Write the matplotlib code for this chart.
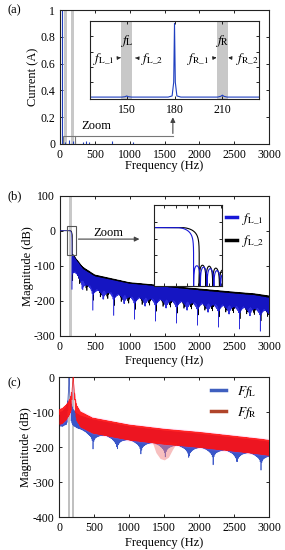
import numpy as np
import matplotlib
matplotlib.use("Agg")
import matplotlib.pyplot as plt
from matplotlib.patches import Rectangle
from matplotlib.lines import Line2D

plt.rcParams['font.family'] = ['Liberation Serif', 'DejaVu Serif']
plt.rcParams['mathtext.fontset'] = 'stix'
plt.rcParams['font.size'] = 8.5
plt.rcParams['axes.unicode_minus'] = False
plt.rcParams['xtick.direction'] = 'in'
plt.rcParams['ytick.direction'] = 'in'
plt.rcParams['xtick.top'] = True
plt.rcParams['ytick.right'] = True
plt.rcParams['xtick.major.size'] = 2.5
plt.rcParams['ytick.major.size'] = 2.5
plt.rcParams['xtick.major.width'] = 0.6
plt.rcParams['ytick.major.width'] = 0.6
plt.rcParams['axes.linewidth'] = 0.8
plt.rcParams['axes.edgecolor'] = '#222222'

# ---------------- data ----------------
freq_ticks = [0, 500, 1000, 1500, 2000, 2500, 3000]

# (a) current spectrum lines (Hz, A)
a_freq = [25, 75, 134, 180, 215, 335, 373, 420, 742, 1052]
a_amp = [1.0, 0.015, 0.03, 0.02, 0.02, 0.015, 0.02, 0.015, 0.025, 0.015]
a_bands = [(57, 100), (158, 200)]
a_yticks = [0, 0.2, 0.4, 0.6, 0.8, 1.0]
a_yticklabels = ['0', '0.2', '0.4', '0.6', '0.8', '1']
# (a) inset (Hz, A)
ins_freq = [127, 147, 149, 150, 151, 153, 176, 178.5, 179.5, 180, 180.5, 181.5,
            184, 207, 209, 210, 211, 213, 233]
ins_amp = [0.005, 0.005, 0.01, 0.02, 0.01, 0.005, 0.005, 0.02, 0.2, 0.97, 0.2, 0.02,
           0.005, 0.005, 0.015, 0.03, 0.015, 0.005, 0.005]
ins_bands = [(146.5, 153.5), (206.5, 213.5)]
ins_ticks = [150, 180, 210]

# (b) filter magnitude responses (dB)
b_band = (135, 175)
b_env_freq = [172, 200, 240, 330, 500, 1000, 1500, 2000, 2500, 2800, 3000]
b_env_L1 = [-68, -74, -86, -110, -131, -152, -161, -171, -180, -185, -192]
b_env_L2 = [-66, -70, -82, -104, -126, -148, -157, -166, -175, -180, -186]
b_flat_end = [142, 150]
b_first_null = [172, 182]
b_null_spacing = [12.008, 12.012]
b_floor = [-100, -75]
b_yticks = [100, 0, -100, -200, -300]

# (c) fault spectra (dB)
c_bands = [(123, 157), (181, 215)]
c_env_freq_L = [0, 50, 100, 115, 125, 132, 137, 140, 143, 148, 155, 165, 180, 200,
                250, 300, 475, 1000, 1500, 2000, 2500, 2900, 3000]
c_env_L = [-100, -97, -85, -72, -55, -38, -18, 0, -18, -38, -55, -68, -80, -92,
           -103, -110, -121, -141, -153, -162, -173, -182, -185]
c_env_freq_R = [0, 50, 100, 130, 150, 170, 182, 190, 195, 198, 201, 206, 214, 230,
                250, 300, 475, 1000, 1500, 2000, 2500, 2900, 3000]
c_env_R = [-92, -88, -78, -70, -62, -50, -35, -18, -8, 0, -8, -18, -35, -60,
           -80, -98, -116, -136, -148, -157, -168, -177, -180]
c_peaks = [140, 198]
c_null_spacing = [11.9965, 12.05]
c_floor = [-95, -45]
c_bowl_freq = [1320, 1380, 1440, 1500, 1560, 1620, 1700]
c_bowl_db = [-180, -215, -232, -236, -228, -205, -180]
c_yticks = [0, -100, -200, -300, -400]

fgrid = np.arange(0, 3000.001, 0.1)


def lowpass_response(f, flat_end, first_null, spacing, floor_db, env_f, env_db):
    out = np.zeros_like(f)
    env = np.interp(f, env_f, env_db)
    roll = (f > flat_end) & (f < first_null)
    x = (f[roll] - flat_end) / (first_null - flat_end)
    out[roll] = 20 * np.log10(np.maximum(np.cos(0.5 * np.pi * x), 1e-20))
    stop = f >= first_null
    s = np.abs(np.sin(np.pi * (f[stop] - first_null) / spacing))
    out[stop] = env[stop] + np.maximum(20 * np.log10(np.maximum(s, 1e-20)), floor_db)
    return out


def peaked_response(f, peak, spacing, floor_db, env_f, env_db):
    env = np.interp(f, env_f, env_db)
    s = np.abs(np.cos(np.pi * (f - peak) / spacing))
    comb = np.maximum(20 * np.log10(np.maximum(s, 1e-20)), floor_db)
    w = np.clip((np.abs(f - peak) - 6) / 20, 0, 1)
    return env + w * comb


blue_b = '#1818d8'
blue_c = '#3a56c8'
red_c = '#ff0e0e'

fig = plt.figure(figsize=(2.85, 5.5), dpi=100)

# ---------------- (a) ----------------
axA = fig.add_axes([0.2105, 0.7382, 0.7334, 0.2436])
for lo, hi in a_bands:
    axA.axvspan(lo, hi, color='#c8c8c8', lw=0, zorder=0)
axA.vlines(a_freq, 0, a_amp, color='#1f3fc0', lw=0.8, zorder=2)
axA.set_xlim(0, 3000)
axA.set_ylim(0, 1)
axA.set_xticks(freq_ticks)
axA.set_yticks(a_yticks)
axA.set_yticklabels(a_yticklabels)
axA.set_xlabel('Frequency (Hz)', fontsize=9)
axA.set_ylabel('Current (A)', fontsize=9)
axA.xaxis.set_label_coords(0.5, -0.12)
axA.yaxis.set_label_coords(-0.10, 0.5)
# zoom box and arrow
axA.add_patch(Rectangle((45, 0), 170, 0.058, fill=False, ec='#777777', lw=0.8, zorder=3))
axA.plot([215, 1620], [0.058, 0.058], color='#777777', lw=0.8, zorder=3)
axA.annotate('', xy=(1620, 0.22), xytext=(1620, 0.058),
             arrowprops=dict(arrowstyle='-|>', color='#444444', lw=0.8, mutation_scale=7))
axA.text(310, 0.135, 'Zoom', fontsize=9, va='center', ha='left')

insA = fig.add_axes([0.3158, 0.82, 0.593, 0.1418])
for lo, hi in ins_bands:
    insA.axvspan(lo, hi, color='#c8c8c8', lw=0, zorder=0)
insA.plot(ins_freq, ins_amp, color='#1f3fc0', lw=0.8)
insA.set_xlim(127, 233)
insA.set_ylim(-0.02, 1.0)
insA.set_xticks(ins_ticks)
insA.set_yticks([0.2, 0.4, 0.6, 0.8])
insA.set_yticklabels([])
insA.tick_params(labelsize=8.5, length=2)
insA.text(150, 0.74, r'$f_{\mathrm{L}}$', fontsize=10, ha='center', va='center')
insA.text(210, 0.74, r'$f_{\mathrm{R}}$', fontsize=10, ha='center', va='center')
arrow_kw = dict(arrowstyle='-|>', color='#222222', lw=0.6, mutation_scale=5)
insA.annotate(r'$f_{\mathrm{L\_1}}$', xy=(146.3, 0.52), xytext=(135.5, 0.50),
              fontsize=9.5, ha='center', va='center', arrowprops=arrow_kw)
insA.annotate(r'$f_{\mathrm{L\_2}}$', xy=(153.7, 0.52), xytext=(166, 0.50),
              fontsize=9.5, ha='center', va='center', arrowprops=arrow_kw)
insA.annotate(r'$f_{\mathrm{R\_1}}$', xy=(206.3, 0.52), xytext=(195, 0.50),
              fontsize=9.5, ha='center', va='center', arrowprops=arrow_kw)
insA.annotate(r'$f_{\mathrm{R\_2}}$', xy=(213.7, 0.52), xytext=(225.5, 0.50),
              fontsize=9.5, ha='center', va='center', arrowprops=arrow_kw)

# ---------------- (b) ----------------
mag_L1 = lowpass_response(fgrid, b_flat_end[0], b_first_null[0], b_null_spacing[0],
                          b_floor[0], b_env_freq, b_env_L1)
mag_L2 = lowpass_response(fgrid, b_flat_end[1], b_first_null[1], b_null_spacing[1],
                          b_floor[1], b_env_freq, b_env_L2)

axB = fig.add_axes([0.2105, 0.3896, 0.7334, 0.2546])
axB.axvspan(*b_band, color='#c8c8c8', lw=0, zorder=0)
axB.plot(fgrid, mag_L2, color='black', lw=0.5, zorder=2)
axB.plot(fgrid, mag_L1, color=blue_b, lw=0.4, alpha=0.9, zorder=3)
axB.set_xlim(0, 3000)
axB.set_ylim(-300, 100)
axB.set_xticks(freq_ticks)
axB.set_yticks(b_yticks)
axB.set_xlabel('Frequency (Hz)', fontsize=9)
axB.set_ylabel('Magnitude (dB)', fontsize=9)
axB.xaxis.set_label_coords(0.5, -0.138)
axB.yaxis.set_label_coords(-0.125, 0.5)
axB.add_patch(Rectangle((96, -69), 129, 81, fill=False, ec='#555555', lw=0.8, zorder=4))
axB.annotate('', xy=(1180, -24), xytext=(225, -24),
             arrowprops=dict(arrowstyle='-|>', color='#444444', lw=0.8, mutation_scale=7),
             zorder=4)
axB.text(690, -6, 'Zoom', fontsize=9, ha='center', va='center')
legB = axB.legend([Line2D([], [], color=blue_b, lw=2.5), Line2D([], [], color='black', lw=2.5)],
                  [r'$f_{\mathrm{L\_1}}$', r'$f_{\mathrm{L\_2}}$'],
                  loc='upper left', bbox_to_anchor=(226 / 285, 1 - 211 / 550),
                  bbox_transform=fig.transFigure, frameon=False, fontsize=9.5,
                  handlelength=0.8, handletextpad=0.4, labelspacing=0.5,
                  borderpad=0, borderaxespad=0)

insB = fig.add_axes([0.5414, 0.48, 0.2365, 0.1473])
insB.plot(fgrid, mag_L2, color='black', lw=0.8)
insB.plot(fgrid, mag_L1, color=blue_b, lw=0.8)
insB.set_xlim(102, 222)
insB.set_ylim(-106, 41)
insB.set_xticks([120, 140, 160, 180, 200, 220])
insB.set_yticks([-80, -50, -20, 10])
insB.set_xticklabels([])
insB.set_yticklabels([])
insB.tick_params(length=2)

# ---------------- (c) ----------------
mag_FL = peaked_response(fgrid, c_peaks[0], c_null_spacing[0], c_floor[0],
                         c_env_freq_L, c_env_L)
mag_FR = peaked_response(fgrid, c_peaks[1], c_null_spacing[1], c_floor[1],
                         c_env_freq_R, c_env_R)
env_R = np.interp(fgrid, c_env_freq_R, c_env_R)

axC = fig.add_axes([0.208, 0.0595, 0.737, 0.2545])
for lo, hi in c_bands:
    axC.axvspan(lo, hi, color='#c0c0c0', lw=0, zorder=0)
axC.plot(fgrid, mag_FL, color=blue_c, lw=0.5, zorder=2)
axC.fill_between(fgrid, env_R + 5, env_R - 47, color='#ff55dd', alpha=0.15, lw=0, zorder=2.5)
axC.fill_between(c_bowl_freq, np.interp(c_bowl_freq, c_env_freq_R, c_env_R) - 35, c_bowl_db,
                 color='#f08080', alpha=0.5, lw=0, zorder=2.6)
axC.plot(fgrid, mag_FR, color=red_c, lw=0.5, alpha=0.9, zorder=3)
axC.set_xlim(0, 3000)
axC.set_ylim(-400, 0)
axC.set_xticks(freq_ticks)
axC.set_yticks(c_yticks)
axC.set_xlabel('Frequency (Hz)', fontsize=9)
axC.set_ylabel('Magnitude (dB)', fontsize=9)
axC.xaxis.set_label_coords(0.5, -0.139)
axC.yaxis.set_label_coords(-0.13, 0.5)
legC = axC.legend([Line2D([], [], color='#3f5fbf', lw=2.5), Line2D([], [], color='#b0442a', lw=2.5)],
                  [r'$Ff_{\mathrm{L}}$', r'$Ff_{\mathrm{R}}$'],
                  loc='upper left', bbox_to_anchor=(211 / 285, 1 - 384 / 550),
                  bbox_transform=fig.transFigure, frameon=False, fontsize=9.5,
                  handlelength=1.1, handletextpad=0.9, labelspacing=0.35,
                  borderpad=0, borderaxespad=0)

# panel letters
fig.text(7 / 285, 1 - 10 / 550, '(a)', fontsize=9, va='center', ha='left')
fig.text(7 / 285, 1 - 196 / 550, '(b)', fontsize=9, va='center', ha='left')
fig.text(7 / 285, 1 - 383 / 550, '(c)', fontsize=9, va='center', ha='left')

fig.savefig('out.png', dpi=100)
